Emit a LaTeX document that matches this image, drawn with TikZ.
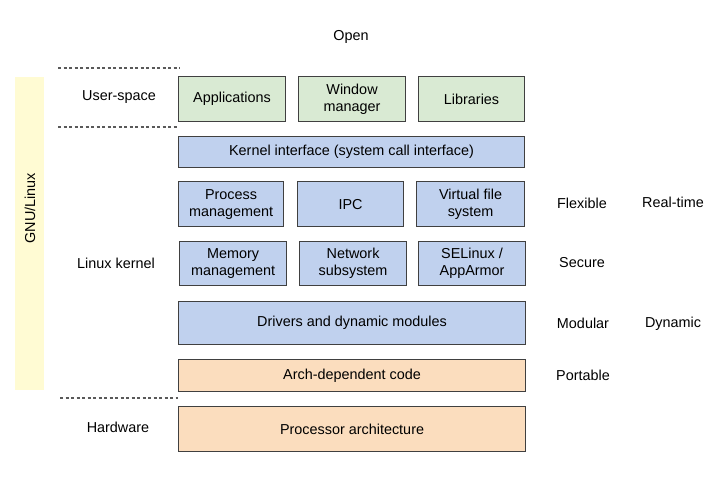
\documentclass[tikz,border=0pt]{standalone}
\usepackage{fontspec}
\setmainfont{Liberation Sans}
\begin{document}
\begin{tikzpicture}[x=1pt,y=-1pt,
  box/.style={draw=black!75,line width=1.1pt,align=center,inner sep=0pt,anchor=north west,font=\fontsize{14.4}{17}\selectfont},
  green/.style={box,fill=userfill},
  blue/.style={box,fill=kernfill},
  orange/.style={box,fill=hwfill},
  lbl/.style={font=\fontsize{14.4}{17}\selectfont,inner sep=0pt},
  sep/.style={draw=black!65,dashed,line width=1.2pt,dash pattern=on 3pt off 2.5pt}]
\definecolor{userfill}{HTML}{D9EAD3}
\definecolor{kernfill}{HTML}{C0D1EE}
\definecolor{hwfill}{HTML}{FBDDBE}
\definecolor{gnufill}{HTML}{FFFBD3}
\useasboundingbox (0,0) rectangle (720,480);
% GNU/Linux bar
\node[fill=gnufill,minimum width=29pt,minimum height=313pt,inner sep=0pt,anchor=north west] (gnu) at (15,77) {};
\node[lbl,rotate=90] (gnut) at (30,208) {GNU/Linux};
% separators
\coordinate (s1a) at (58,68); \coordinate (s1b) at (180,68);
\coordinate (s2a) at (58,127); \coordinate (s2b) at (178,127);
\coordinate (s3a) at (60,398); \coordinate (s3b) at (178,398);
\draw[sep] (s1a) -- (s1b);
\draw[sep] (s2a) -- (s2b);
\draw[sep] (s3a) -- (s3b);
% labels
\node[lbl] (open) at (351,37) {Open};
\node[lbl] (us) at (119,97) {User-space};
\node[lbl] (lk) at (116,263) {Linux kernel};
\node[lbl] (hw) at (118,427) {Hardware};
\node[lbl] (flex) at (582,203) {Flexible};
\node[lbl] (rt) at (673,202) {Real-time};
\node[lbl] (sec) at (582,263) {Secure};
\node[lbl] (mod) at (583,323) {Modular};
\node[lbl] (dyn) at (673,324) {Dynamic};
\node[lbl] (port) at (583,375) {Portable};
% user space
\node[green,minimum width=107pt,minimum height=45pt] (app) at (178,76) {Applications};
\node[green,minimum width=107pt,minimum height=45pt] (wm) at (298,76) {Window\\manager};
\node[green,minimum width=106pt,minimum height=45pt] (lib) at (418,76) {Libraries};
% kernel
\node[blue,minimum width=346pt,minimum height=31pt] (ki) at (178,136) {Kernel interface (system call interface)};
\node[blue,minimum width=105pt,minimum height=45pt] (pm) at (178,181) {Process\\management};
\node[blue,minimum width=106pt,minimum height=45pt] (ipc) at (297,181) {IPC};
\node[blue,minimum width=108pt,minimum height=45pt] (vfs) at (416,181) {Virtual file\\system};
\node[blue,minimum width=107pt,minimum height=44pt] (mm) at (179,241) {Memory\\management};
\node[blue,minimum width=107pt,minimum height=44pt] (ns) at (299,241) {Network\\subsystem};
\node[blue,minimum width=107pt,minimum height=44pt] (se) at (418,241) {SELinux /\\AppArmor};
\node[blue,minimum width=347pt,minimum height=43pt] (drv) at (178,301) {Drivers and dynamic modules};
\node[orange,minimum width=347pt,minimum height=32pt] (arch) at (178,359) {Arch-dependent code};
\node[orange,minimum width=347pt,minimum height=45pt] (proc) at (178,406) {Processor architecture};
\end{tikzpicture}
\end{document}
